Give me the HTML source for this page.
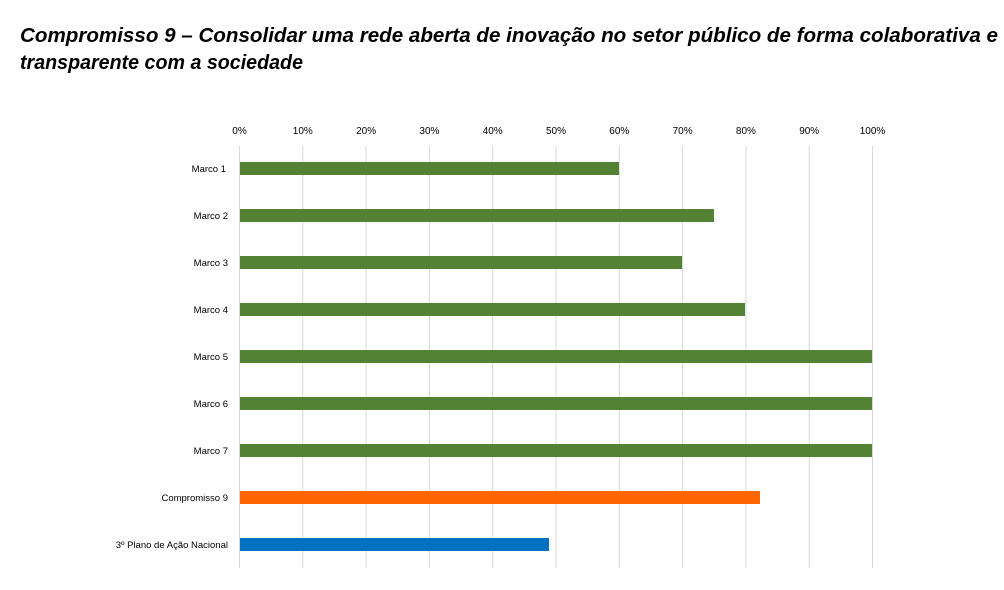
<!DOCTYPE html>
<html><head><meta charset="utf-8"><style>
html,body{margin:0;padding:0;background:#fff;width:1004px;height:590px;overflow:hidden}
</style></head><body>
<svg width="1004" height="590" xmlns="http://www.w3.org/2000/svg" font-family="'Liberation Sans', sans-serif">
<text x="20" y="42" font-size="20" font-weight="bold" font-style="italic" textLength="978" lengthAdjust="spacingAndGlyphs">Compromisso 9 – Consolidar uma rede aberta de inovação no setor público de forma colaborativa e</text>
<text x="20" y="69" font-size="20" font-weight="bold" font-style="italic" textLength="283" lengthAdjust="spacingAndGlyphs">transparente com a sociedade</text>
<g stroke="#d9d9d9" stroke-width="1">
<line x1="239.5" y1="146" x2="239.5" y2="568"/>
<line x1="302.8" y1="146" x2="302.8" y2="568"/>
<line x1="366.1" y1="146" x2="366.1" y2="568"/>
<line x1="429.4" y1="146" x2="429.4" y2="568"/>
<line x1="492.7" y1="146" x2="492.7" y2="568"/>
<line x1="556" y1="146" x2="556" y2="568"/>
<line x1="619.3" y1="146" x2="619.3" y2="568"/>
<line x1="682.6" y1="146" x2="682.6" y2="568"/>
<line x1="745.9" y1="146" x2="745.9" y2="568"/>
<line x1="809.2" y1="146" x2="809.2" y2="568"/>
<line x1="872.5" y1="146" x2="872.5" y2="568"/>
</g>
<g font-size="10" fill="#000" text-anchor="middle">
<text x="239.5" y="134">0%</text><text x="302.8" y="134">10%</text><text x="366.1" y="134">20%</text>
<text x="429.4" y="134">30%</text><text x="492.7" y="134">40%</text><text x="556" y="134">50%</text>
<text x="619.3" y="134">60%</text><text x="682.6" y="134">70%</text><text x="745.9" y="134">80%</text>
<text x="809.2" y="134">90%</text><text x="872.5" y="134">100%</text>
</g>
<g fill="#548235">
<rect x="240" y="162" width="379" height="13"/>
<rect x="240" y="209" width="474" height="13"/>
<rect x="240" y="256" width="442" height="13"/>
<rect x="240" y="303" width="505" height="13"/>
<rect x="240" y="350" width="632" height="13"/>
<rect x="240" y="397" width="632" height="13"/>
<rect x="240" y="444" width="632" height="13"/>
</g>
<rect x="240" y="491" width="520" height="13" fill="#ff6600"/>
<rect x="240" y="538" width="309" height="13" fill="#0070c0"/>
<g font-size="9.5" fill="#000" text-anchor="end">
<text x="226" y="172">Marco 1</text>
<text x="228" y="219">Marco 2</text>
<text x="228" y="266">Marco 3</text>
<text x="228" y="313">Marco 4</text>
<text x="228" y="360">Marco 5</text>
<text x="228" y="407">Marco 6</text>
<text x="228" y="454">Marco 7</text>
<text x="228" y="501">Compromisso 9</text>
<text x="228" y="548">3º Plano de Ação Nacional</text>
</g>
</svg>
</body></html>
